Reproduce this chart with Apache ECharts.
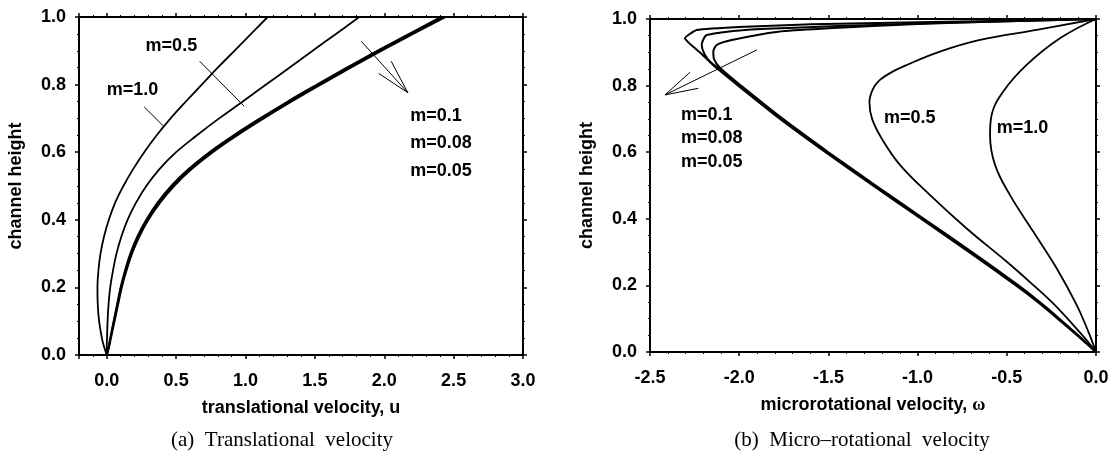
<!DOCTYPE html>
<html style="height: 100%">
<head>
<meta charset="UTF-8">
</head>
<body style="height: 100%; margin: 0; background: #fff">
<div id="container" style="width: 1116px; height: 457px"></div>
<script type="text/javascript" src="https://cdn.jsdelivr.net/npm/echarts@6.0.0/dist/echarts.min.js"></script>
<script type="text/javascript">
var myChart = echarts.init(document.getElementById('container'));

// (a) translational velocity u, sampled at channel heights
var heightsA = [0, 0.025, 0.05, 0.1, 0.15, 0.2, 0.25, 0.3, 0.35, 0.4, 0.45, 0.5, 0.55, 0.6, 0.65, 0.7, 0.75, 0.8, 0.85, 0.9, 0.95, 1.0];
var uM10  = [0, -0.02, -0.035, -0.055, -0.065, -0.067, -0.06, -0.045, -0.02, 0.015, 0.06, 0.12, 0.19, 0.27, 0.36, 0.46, 0.57, 0.685, 0.8, 0.92, 1.04, 1.16];
var uM05  = [0, 0, 0.002, 0.006, 0.013, 0.025, 0.045, 0.07, 0.105, 0.15, 0.21, 0.285, 0.38, 0.5, 0.65, 0.81, 0.98, 1.148, 1.316, 1.484, 1.652, 1.82];
var uM01  = [0, 0.014, 0.025, 0.05, 0.075, 0.1, 0.132, 0.17, 0.22, 0.285, 0.365, 0.465, 0.59, 0.74, 0.915, 1.105, 1.305, 1.515, 1.73, 1.95, 2.18, 2.41];
var uM008 = [0, 0.015, 0.027, 0.052, 0.078, 0.104, 0.137, 0.176, 0.227, 0.293, 0.374, 0.475, 0.601, 0.752, 0.928, 1.118, 1.318, 1.528, 1.743, 1.963, 2.193, 2.425];
var uM005 = [0, 0.017, 0.03, 0.056, 0.082, 0.108, 0.142, 0.182, 0.234, 0.3, 0.383, 0.485, 0.612, 0.764, 0.94, 1.131, 1.332, 1.542, 1.758, 1.978, 2.208, 2.44];

// (b) micro-rotational velocity w and channel height
var wM10 = [0, -0.043, -0.108, -0.22, -0.351, -0.482, -0.566, -0.594, -0.585, -0.52, -0.389, -0.202, 0];
var hM10 = [0, 0.061, 0.141, 0.251, 0.361, 0.471, 0.562, 0.652, 0.712, 0.782, 0.862, 0.942, 1.0];
var wM05 = [0, -0.06, -0.127, -0.25, -0.37, -0.5, -0.725, -0.93, -1.099, -1.2, -1.255, -1.27, -1.25, -1.211, -1.14, -1.061, -0.875, -0.65, -0.333, 0];
var hM05 = [0, 0.04, 0.081, 0.151, 0.21, 0.271, 0.371, 0.471, 0.562, 0.64, 0.70, 0.75, 0.79, 0.817, 0.842, 0.862, 0.902, 0.937, 0.967, 1.0];
var wM01 = [0, -0.1, -0.205, -0.315, -0.435, -0.695, -0.965, -1.235, -1.5, -1.755, -1.99, -2.105, -2.14, -2.145, -2.126, -2.042, -1.781, -1.5, -1.0, -0.5, 0];
var hM01 = [0, 0.05, 0.1, 0.15, 0.2, 0.3, 0.4, 0.5, 0.6, 0.7, 0.8, 0.852, 0.878, 0.902, 0.922, 0.937, 0.962, 0.972, 0.985, 0.993, 1.0];
var wM008 = [0, -0.103, -0.21, -0.321, -0.442, -0.703, -0.973, -1.243, -1.508, -1.763, -1.998, -2.115, -2.16, -2.195, -2.21, -2.2, -2.182, -1.967, -1.687, -1.2, -0.6, 0];
var hM008 = [0, 0.05, 0.1, 0.15, 0.2, 0.3, 0.4, 0.5, 0.6, 0.7, 0.8, 0.852, 0.87, 0.895, 0.922, 0.94, 0.952, 0.967, 0.974, 0.983, 0.992, 1.0];
var wM005 = [0, -0.106, -0.215, -0.327, -0.449, -0.711, -0.981, -1.251, -1.516, -1.771, -2.006, -2.125, -2.215, -2.304, -2.238, -1.967, -1.594, -1.0, -0.5, 0];
var hM005 = [0, 0.05, 0.1, 0.15, 0.2, 0.3, 0.4, 0.5, 0.6, 0.7, 0.8, 0.852, 0.897, 0.942, 0.967, 0.977, 0.984, 0.99, 0.995, 1.0];

// annotation lines (data units)
var arrowShaftA = [[1.835, 0.928], [2.17, 0.776]];
var arrowHeadA  = [[2.05, 0.869], [2.17, 0.776], [1.96, 0.833]];
var leaderA05   = [[0.67, 0.869], [0.99, 0.736]];
var leaderA10   = [[0.27, 0.734], [0.41, 0.677]];
var arrowShaftB = [[-1.902, 0.907], [-2.416, 0.772]];
var arrowHeadB  = [[-2.276, 0.84], [-2.416, 0.772], [-2.229, 0.792]];

var labelsA = [
    { name: 'm=0.5', value: [0.28, 0.913] },
    { name: 'm=1.0', value: [0.0, 0.783] },
    { name: 'm=0.1', value: [2.187, 0.707] },
    { name: 'm=0.08', value: [2.187, 0.626] },
    { name: 'm=0.05', value: [2.187, 0.544] }
];
var labelsB = [
    { name: 'm=0.1', value: [-2.326, 0.712] },
    { name: 'm=0.08', value: [-2.326, 0.642] },
    { name: 'm=0.05', value: [-2.326, 0.571] },
    { name: 'm=0.5', value: [-1.188, 0.702] },
    { name: 'm=1.0', value: [-0.557, 0.672] }
];

var sans = 'Liberation Sans';

function zip(xs, ys) {
    return xs.map(function (x, i) { return [x, ys[i]]; });
}

function curve(data, axis, width, smooth) {
    return {
        type: 'line', xAxisIndex: axis, yAxisIndex: axis,
        data: data, symbol: 'none', smooth: smooth, silent: true,
        lineStyle: { color: '#000', width: width }
    };
}

function labels(data, axis) {
    return {
        type: 'scatter', xAxisIndex: axis, yAxisIndex: axis,
        data: data, symbolSize: 0, silent: true,
        label: {
            show: true, position: 'right', distance: 0, opacity: 1,
            formatter: '{b}', color: '#000', textBorderWidth: 0,
            fontFamily: sans, fontWeight: 'bold', fontSize: 18
        }
    };
}

function fmt(v) {
    return v < -0.2 + 1e-6 && v > -0.2 - 1e-6 ? '' : v.toFixed(1);
}

function xAx(grid, min, max, top, name) {
    return {
        type: 'value', gridIndex: grid, position: top ? 'top' : 'bottom',
        min: min, max: max, interval: min === -2.5 ? 0.5 : undefined,
        name: top ? '' : name, nameLocation: 'middle', nameGap: 44,
        nameTextStyle: { fontFamily: sans, fontWeight: 'bold', fontSize: 18, color: '#000',
            rich: { w: { fontFamily: 'Liberation Serif', fontSize: 18, color: '#000' } } },
        splitLine: { show: false },
        axisLine: { show: true, onZero: false, lineStyle: { color: '#000', width: 2 } },
        axisTick: { show: true, length: 4, lineStyle: { color: '#000', width: 1.5 } },
        minorTick: { show: true, splitNumber: 5, length: 2, lineStyle: { color: '#000' } },
        axisLabel: { show: !top, margin: 17, formatter: fmt, color: '#000',
            fontFamily: sans, fontWeight: 'bold', fontSize: 18 }
    };
}

function yAx(grid, right, name) {
    return {
        type: 'value', gridIndex: grid, position: right ? 'right' : 'left',
        min: 0, max: 1, interval: 0.2,
        name: right ? '' : name, nameLocation: 'middle', nameGap: 54,
        nameTextStyle: { fontFamily: sans, fontWeight: 'bold', fontSize: 18, color: '#000' },
        splitLine: { show: false },
        axisLine: { show: true, onZero: false, lineStyle: { color: '#000', width: 2 } },
        axisTick: { show: true, length: 4, lineStyle: { color: '#000', width: 1.5 } },
        minorTick: { show: true, splitNumber: 4, length: 2, lineStyle: { color: '#000' } },
        axisLabel: { show: !right, margin: 13, formatter: function (v) { return v.toFixed(1); },
            color: '#000', fontFamily: sans, fontWeight: 'bold', fontSize: 18 }
    };
}

var option = {
    backgroundColor: '#fff',
    animation: false,
    grid: [
        { left: 79, top: 17, width: 444, height: 338 },
        { left: 650, top: 19, width: 446, height: 333 }
    ],
    xAxis: [
        xAx(0, -0.2, 3.0, false, 'translational velocity, u'),
        xAx(0, -0.2, 3.0, true),
        xAx(1, -2.5, 0, false, 'microrotational velocity, {w|ω}'),
        xAx(1, -2.5, 0, true)
    ],
    yAxis: [
        yAx(0, false, 'channel height'),
        yAx(0, true),
        yAx(1, false, 'channel height'),
        yAx(1, true)
    ],
    graphic: [
        { type: 'text', x: 282, y: 440, style: { text: '(a)  Translational  velocity', textAlign: 'center', textVerticalAlign: 'middle', font: '21px "Liberation Serif"', fill: '#000' } },
        { type: 'text', x: 862, y: 440, style: { text: '(b)  Micro\u2013rotational  velocity', textAlign: 'center', textVerticalAlign: 'middle', font: '21px "Liberation Serif"', fill: '#000' } }
    ],
    series: [
        curve(zip(uM10, heightsA), 0, 1.8, 0.4),
        curve(zip(uM05, heightsA), 0, 1.8, 0.4),
        curve(zip(uM01, heightsA), 0, 2, 0.4),
        curve(zip(uM008, heightsA), 0, 2, 0.4),
        curve(zip(uM005, heightsA), 0, 2, 0.4),
        curve(arrowShaftA, 0, 1, false),
        curve(arrowHeadA, 0, 1, false),
        curve(leaderA05, 0, 1, false),
        curve(leaderA10, 0, 1, false),
        labels(labelsA, 0),

        curve(zip(wM10, hM10), 2, 1.8, 0.4),
        curve(zip(wM05, hM05), 2, 1.8, 0.4),
        curve(zip(wM01, hM01), 2, 2, 0.25),
        curve(zip(wM008, hM008), 2, 2, 0.25),
        curve(zip(wM005, hM005), 2, 2, 0.15),
        curve(arrowShaftB, 2, 1, false),
        curve(arrowHeadB, 2, 1, false),
        labels(labelsB, 2)
    ]
};
option && myChart.setOption(option);
</script>
</body>
</html>
